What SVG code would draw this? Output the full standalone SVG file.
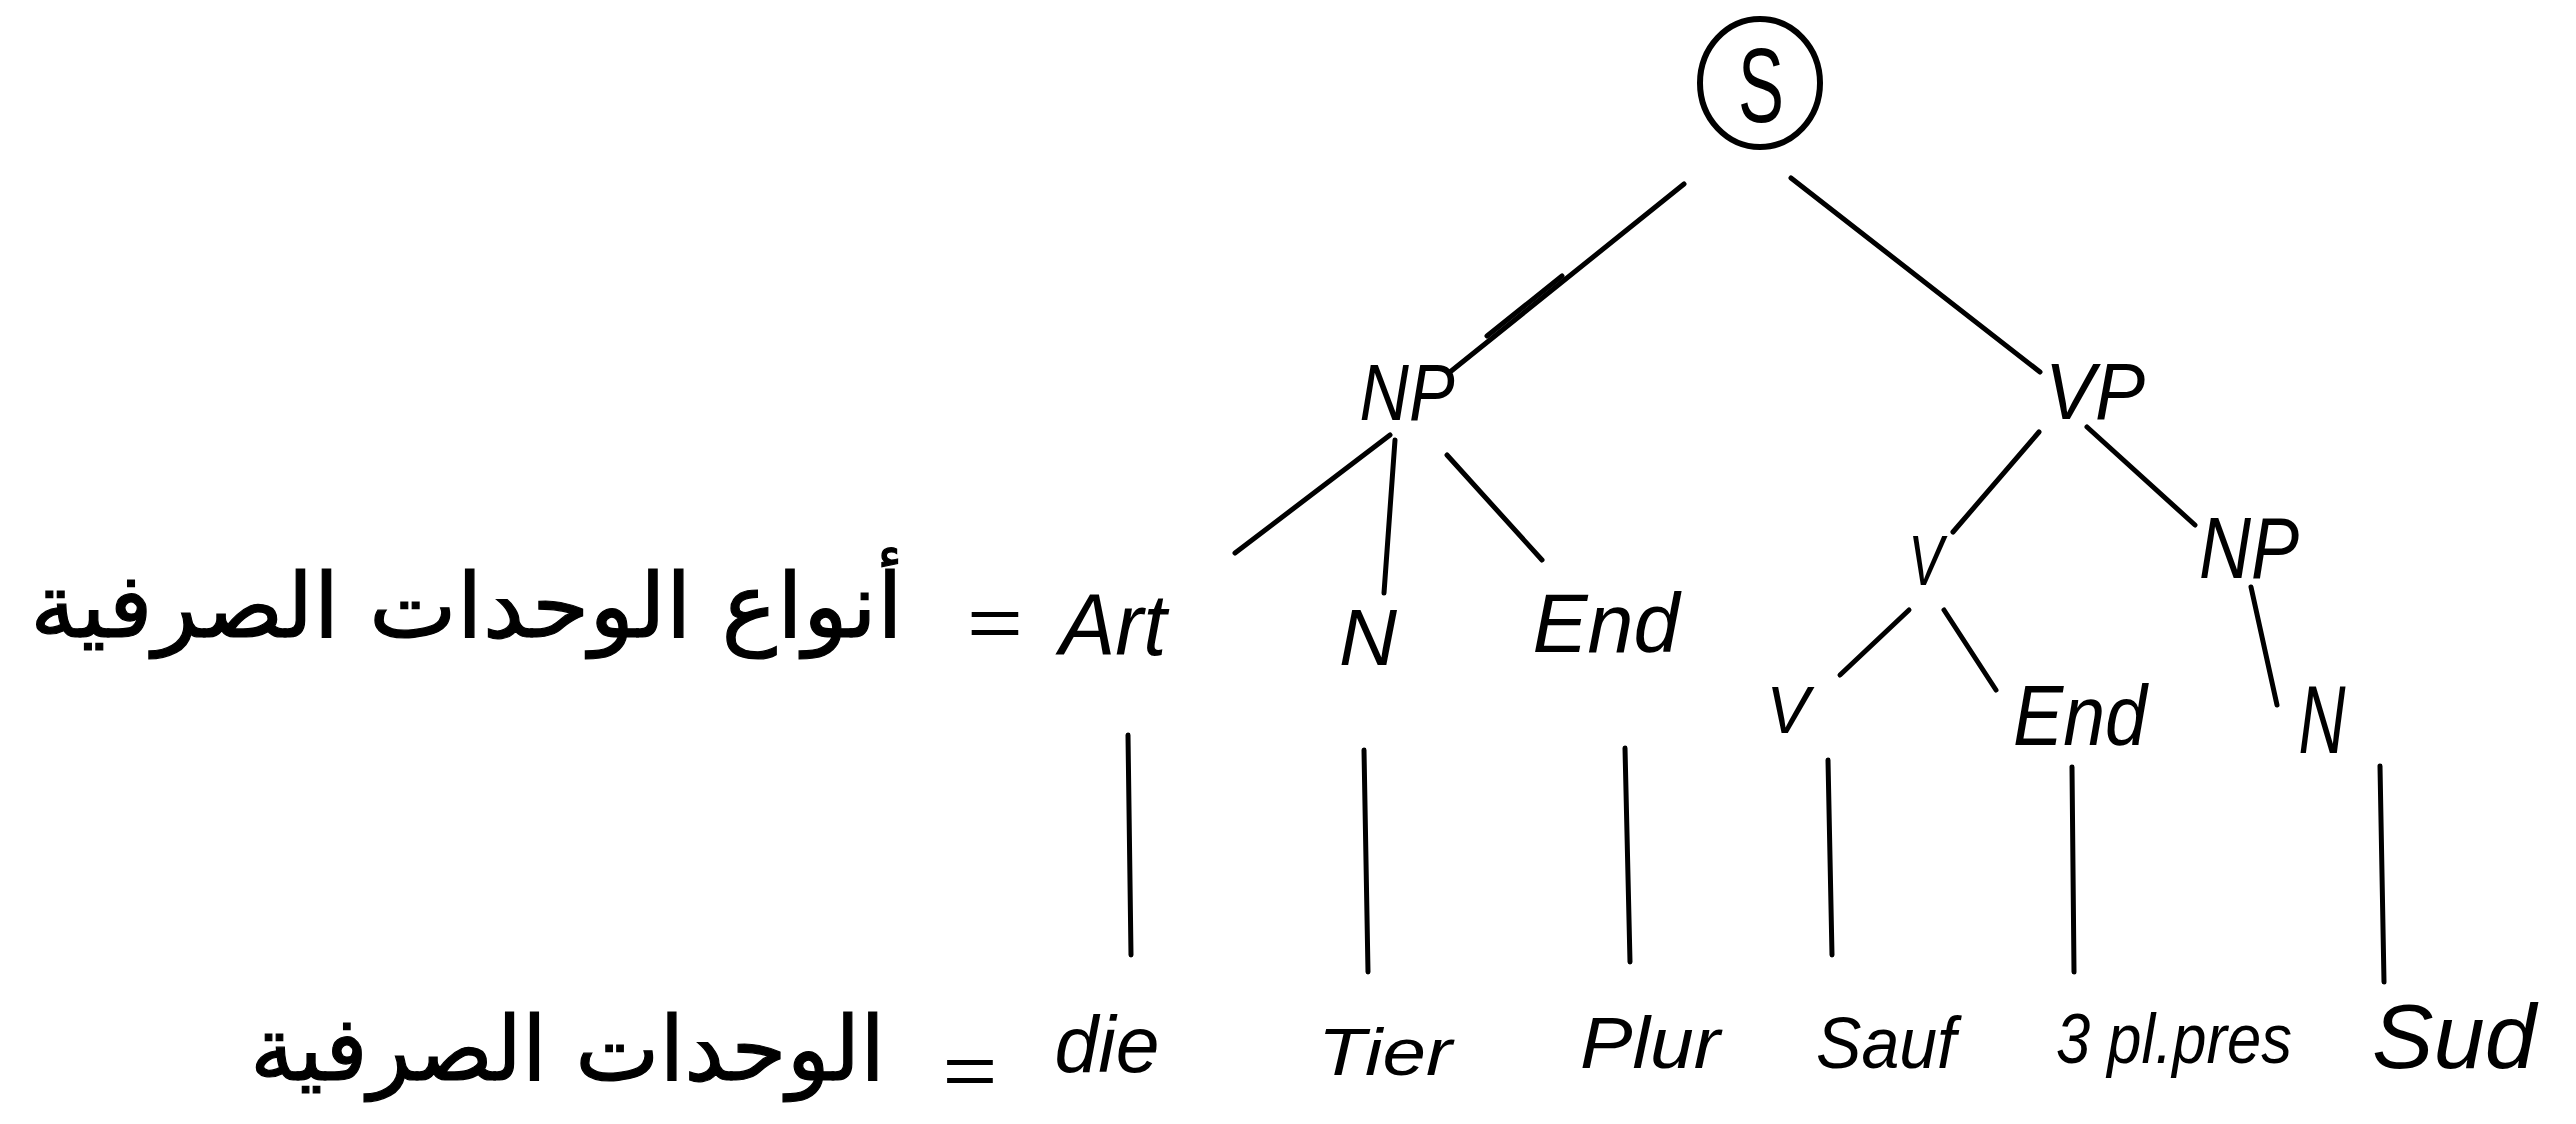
<svg xmlns="http://www.w3.org/2000/svg" width="2576" height="1124" viewBox="0 0 2576 1124">
<style>
  .lbl { font-family: "Liberation Sans", "DejaVu Sans", sans-serif; font-style: italic; fill: #000; text-anchor: middle; }
  .ar { font-family: "DejaVu Sans", "Noto Sans", sans-serif; fill: #000; stroke: #000; stroke-width: 1.2; }
  .eq { font-family: "Liberation Sans", sans-serif; fill: #000; text-anchor: middle; }
  .edge { stroke: #000; stroke-width: 5; stroke-linecap: round; fill: none; }
</style>
<rect width="2576" height="1124" fill="#fff"/>

<g id="connectors">
  <line class="edge" x1="1684" y1="184" x2="1450" y2="372"/>
  <line class="edge" x1="1562" y1="276" x2="1487" y2="336" stroke-width="2"/>
  <line class="edge" x1="1791" y1="178" x2="2040" y2="372"/>
  <line class="edge" x1="1390" y1="435" x2="1235" y2="553"/>
  <line class="edge" x1="1395" y1="440" x2="1384" y2="593"/>
  <line class="edge" x1="1447" y1="455" x2="1542" y2="560"/>
  <line class="edge" x1="2039" y1="432" x2="1953" y2="532"/>
  <line class="edge" x1="2087" y1="427" x2="2195" y2="525"/>
  <line class="edge" x1="1909" y1="610" x2="1840" y2="675"/>
  <line class="edge" x1="1944" y1="610" x2="1996" y2="690"/>
  <line class="edge" x1="2251" y1="587" x2="2277" y2="705"/>
  <line class="edge" x1="1128" y1="735" x2="1131" y2="955"/>
  <line class="edge" x1="1364" y1="750" x2="1368" y2="972"/>
  <line class="edge" x1="1625" y1="748" x2="1630" y2="962"/>
  <line class="edge" x1="1828" y1="760" x2="1832" y2="955"/>
  <line class="edge" x1="2072" y1="767" x2="2074" y2="972"/>
  <line class="edge" x1="2380" y1="766" x2="2384" y2="982"/>
</g>

<g id="node-S">
  <ellipse cx="1760" cy="83" rx="60" ry="64" fill="none" stroke="#000" stroke-width="6"/>
  <text x="1761" y="122" font-family="Liberation Sans, sans-serif" font-size="106" text-anchor="middle" textLength="46" lengthAdjust="spacingAndGlyphs">S</text>
</g>
<g id="node-NP"><text class="lbl" x="1407" y="420" font-size="80" textLength="95" lengthAdjust="spacingAndGlyphs">NP</text></g>
<g id="node-VP"><text class="lbl" x="2095" y="419" font-size="80" textLength="100" lengthAdjust="spacingAndGlyphs">VP</text></g>
<g id="node-Art"><text class="lbl" x="1113" y="655" font-size="88" textLength="107" lengthAdjust="spacingAndGlyphs">Art</text></g>
<g id="node-N1"><text class="lbl" x="1368" y="665" font-size="80" textLength="58" lengthAdjust="spacingAndGlyphs">N</text></g>
<g id="node-End1"><text class="lbl" x="1606" y="652" font-size="84" textLength="147" lengthAdjust="spacingAndGlyphs">End</text></g>
<g id="node-V1"><text class="lbl" x="1926" y="585" font-size="70" textLength="35" lengthAdjust="spacingAndGlyphs">V</text></g>
<g id="node-NP2"><text class="lbl" x="2249" y="578" font-size="88" textLength="100" lengthAdjust="spacingAndGlyphs">NP</text></g>
<g id="node-V2"><text class="lbl" x="1788" y="733" font-size="66" textLength="43" lengthAdjust="spacingAndGlyphs">V</text></g>
<g id="node-End2"><text class="lbl" x="2080" y="745" font-size="85" textLength="134" lengthAdjust="spacingAndGlyphs">End</text></g>
<g id="node-N2"><text class="lbl" x="2322" y="753" font-size="96" textLength="47" lengthAdjust="spacingAndGlyphs">N</text></g>

<g id="node-die"><text class="lbl" x="1107" y="1072" font-size="80" textLength="105" lengthAdjust="spacingAndGlyphs">die</text></g>
<g id="node-Tier"><text class="lbl" x="1385" y="1075" font-size="67" textLength="134" lengthAdjust="spacingAndGlyphs">Tier</text></g>
<g id="node-Plur"><text class="lbl" x="1650" y="1068" font-size="73" textLength="140" lengthAdjust="spacingAndGlyphs">Plur</text></g>
<g id="node-Sauf"><text class="lbl" x="1886" y="1068" font-size="73" textLength="140" lengthAdjust="spacingAndGlyphs">Sauf</text></g>
<g id="node-3plpres"><text class="lbl" x="2174" y="1063" font-size="71" textLength="236" lengthAdjust="spacingAndGlyphs">3 pl.pres</text></g>
<g id="node-Sud"><text class="lbl" x="2454" y="1068" font-size="90" textLength="164" lengthAdjust="spacingAndGlyphs">Sud</text></g>

<g id="caption-types">
  <text class="ar" x="30" y="637" font-size="90" textLength="873" lengthAdjust="spacingAndGlyphs">أنواع الوحدات الصرفية</text>
  <text class="eq" x="995" y="647" font-size="70" textLength="56" lengthAdjust="spacingAndGlyphs">=</text>
</g>
<g id="caption-morphemes">
  <text class="ar" x="250" y="1080" font-size="90" textLength="635" lengthAdjust="spacingAndGlyphs">الوحدات الصرفية</text>
  <text class="eq" x="970" y="1095" font-size="70" textLength="55" lengthAdjust="spacingAndGlyphs">=</text>
</g>
</svg>
